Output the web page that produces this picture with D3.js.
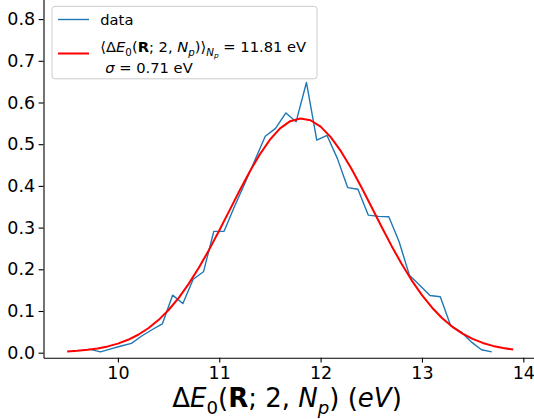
<!DOCTYPE html>
<html>
<head>
<meta charset="utf-8">
<script src="https://cdn.jsdelivr.net/npm/d3@7/dist/d3.min.js"></script>
<style>
  html, body { margin: 0; padding: 0; background: #fff; }
  svg { display: block; font-family: "DejaVu Sans", sans-serif; }
</style>
</head>
<body>
<svg id="chart" width="534" height="419"></svg>
<script>
// ---- data ----
// histogram points (bin positions in eV, normalized density)
const dataStart = 9.727;
const dataStep = 0.10158;
const dataValues = [0.008, 0.002, 0.009, 0.016, 0.0225, 0.040, 0.055, 0.069, 0.138, 0.118,
                    0.176, 0.194, 0.291, 0.291, 0.350, 0.405, 0.462, 0.519, 0.538, 0.575,
                    0.554, 0.648, 0.510, 0.521, 0.466, 0.396, 0.392, 0.330, 0.327, 0.326,
                    0.266, 0.186, 0.162, 0.137, 0.134, 0.065, 0.050, 0.026, 0.007, 0.002];
// fitted gaussian curve, read at 0.1 eV steps from 9.5 to 13.9
const fitStart = 9.5;
const fitStep = 0.1;
const fitValues = [0.0028, 0.0044, 0.0068, 0.0102, 0.0151, 0.0218, 0.0309, 0.0430, 0.0586, 0.0782,
                   0.1024, 0.1315, 0.1656, 0.2043, 0.2471, 0.2931, 0.3408, 0.3885, 0.4341, 0.4756,
                   0.5108, 0.5379, 0.5552, 0.5618, 0.5574, 0.5421, 0.5169, 0.4832, 0.4428, 0.3978,
                   0.3504, 0.3026, 0.2561, 0.2125, 0.1729, 0.1379, 0.1079, 0.0827, 0.0621, 0.0458,
                   0.0331, 0.0234, 0.0163, 0.0111, 0.0074];
const xTicks = [10, 11, 12, 13, 14];
const yTicks = [0.0, 0.1, 0.2, 0.3, 0.4, 0.5, 0.6, 0.7, 0.8];
const seriesNames = ["data", "fit"];

const dataPts = dataValues.map((v, i) => [dataStart + i * dataStep, v]);
const fitPts = fitValues.map((v, i) => [fitStart + i * fitStep, v]);

// ---- layout ----
const svg = d3.select("#chart");
const axLeft = 43.5, axRight = 535.5, axBottom = 357.7, axTop = -1.75;
const x = d3.scaleLinear().domain([9.266, 14.12]).range([axLeft, axRight]);
const y = d3.scaleLinear().domain([-0.012, 0.85]).range([axBottom, axTop]);

const blue = "#1f77b4", red = "#ff0000";

// lines
const line = d3.line().x(d => x(d[0])).y(d => y(d[1]));
svg.append("path").datum(dataPts).attr("d", line)
  .attr("fill", "none").attr("stroke", blue).attr("stroke-width", 1.4)
  .attr("stroke-linejoin", "round");
svg.append("path").datum(fitPts).attr("d", line)
  .attr("fill", "none").attr("stroke", red).attr("stroke-width", 2)
  .attr("stroke-linejoin", "round");

// axes
const xAxis = d3.axisBottom(x).tickValues(xTicks).tickFormat(d3.format("d"))
  .tickSizeInner(4.9).tickSizeOuter(0).tickPadding(3.5);
const yAxis = d3.axisLeft(y).tickValues(yTicks).tickFormat(d3.format(".1f"))
  .tickSizeInner(4.9).tickSizeOuter(0).tickPadding(3.5);

const gx = svg.append("g").attr("transform", `translate(0,${axBottom})`).call(xAxis);
const gy = svg.append("g").attr("transform", `translate(${axLeft},0)`).call(yAxis);
[gx, gy].forEach(g => {
  g.select(".domain").attr("stroke", "#000").attr("stroke-width", 1.1);
  g.selectAll(".tick line").attr("stroke", "#000").attr("stroke-width", 1.1);
  g.selectAll(".tick text").attr("fill", "#000")
    .style("font-family", "DejaVu Sans").style("font-size", "17.5px");
});

// ---- math text helper ----
function mathText(sel, parts, size) {
  // parts: {t, s: 'i'|'b'|'n', lvl: 0|1|2}
  let cur = 0;
  const shift = [0, 0.28, 0.42];
  const scale = [1, 0.7, 0.5];
  parts.forEach(p => {
    const lvl = p.lvl || 0;
    const dy = (shift[lvl] - shift[cur]) * size;
    const ts = sel.append("tspan").text(p.t)
      .attr("font-size", (size * scale[lvl]).toFixed(2) + "px")
      .attr("dy", dy.toFixed(2));
    if (p.s === "i") ts.attr("font-style", "italic");
    if (p.s === "b") ts.attr("font-weight", "bold");
    cur = lvl;
  });
}

// x label
const xl = svg.append("text").attr("x", 287).attr("y", 406.8)
  .attr("text-anchor", "middle").attr("fill", "#000").style("white-space", "pre");
mathText(xl, [
  {t: "Δ"}, {t: "E", s: "i"}, {t: "0", lvl: 1}, {t: "("}, {t: "R", s: "b"},
  {t: "; 2, "}, {t: "N", s: "i"}, {t: "p", s: "i", lvl: 1}, {t: ")"},
  {t: " ("}, {t: "eV", s: "i"}, {t: ")"}
], 26);

// ---- legend ----
const lg = svg.append("g");
lg.append("rect").attr("x", 52).attr("y", 6.3).attr("width", 265).attr("height", 72.5)
  .attr("rx", 3).attr("fill", "#fff").attr("fill-opacity", 0.8)
  .attr("stroke", "#cccccc").attr("stroke-width", 1);
lg.append("line").attr("x1", 58).attr("x2", 89).attr("y1", 19.5).attr("y2", 19.5)
  .attr("stroke", blue).attr("stroke-width", 1.4);
lg.append("text").attr("x", 100.3).attr("y", 24.8).attr("fill", "#000")
  .style("font-size", "14.7px").text(seriesNames[0]);
lg.append("line").attr("x1", 58).attr("x2", 89).attr("y1", 53.5).attr("y2", 53.5)
  .attr("stroke", red).attr("stroke-width", 2);
const l1 = lg.append("text").attr("x", 100.3).attr("y", 51.8).attr("fill", "#000")
  .style("white-space", "pre");
mathText(l1, [
  {t: "⟨Δ"}, {t: "E", s: "i"}, {t: "0", lvl: 1}, {t: "("}, {t: "R", s: "b"},
  {t: "; 2, "}, {t: "N", s: "i"}, {t: "p", s: "i", lvl: 1}, {t: ")⟩"},
  {t: "N", s: "i", lvl: 1}, {t: "p", s: "i", lvl: 2}, {t: " = 11.81 eV"}
], 14.7);
const l2 = lg.append("text").attr("x", 105.3).attr("y", 72.8).attr("fill", "#000")
  .style("white-space", "pre");
mathText(l2, [{t: "σ", s: "i"}, {t: " = 0.71 eV"}], 14.7);
</script>
</body>
</html>
